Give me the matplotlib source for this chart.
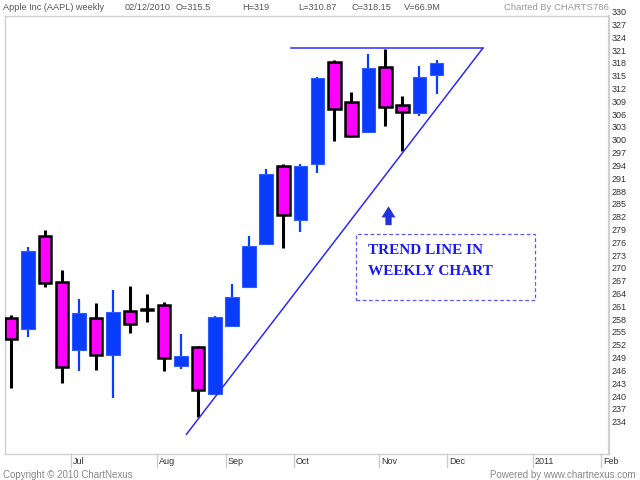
import matplotlib
matplotlib.use("Agg")
import matplotlib.pyplot as plt
from matplotlib.transforms import blended_transform_factory
from matplotlib.patches import FancyArrowPatch, Rectangle
import numpy as np

# ---- data (weekly AAPL candles) ----
opens  = [258.4, 255.9, 277.7, 267.0, 251.0, 258.6, 249.85, 260.2, 260.5, 261.55, 247.35, 251.8, 240.65,
          256.6, 265.7, 275.8, 294.1, 281.5, 294.6, 318.5, 309.0, 302.1, 317.2, 308.4, 306.6, 315.5]
highs  = [259.1, 275.1, 279.0, 269.75, 262.9, 261.95, 265.1, 266.0, 264.1, 262.2, 254.7, 251.9, 259.0,
          266.5, 277.8, 293.4, 294.6, 294.6, 315.0, 318.9, 311.5, 320.25, 321.4, 310.5, 317.5, 319.0]
lows   = [242.2, 254.1, 265.8, 243.2, 246.2, 246.3, 239.7, 254.9, 257.65, 246.2, 246.6, 235.4, 240.4,
          256.4, 265.5, 275.6, 275.0, 278.55, 292.5, 300.0, 300.9, 301.9, 303.5, 297.7, 305.8, 310.87]
closes = [253.5, 274.2, 266.6, 247.0, 259.75, 249.85, 260.0, 257.1, 260.3, 249.2, 249.7, 241.65, 258.8,
          263.5, 275.4, 292.2, 282.5, 294.2, 314.8, 307.45, 301.0, 317.1, 308.0, 306.75, 315.0, 318.15]

month_pos = [3.54, 8.59, 12.62, 16.63, 21.64, 25.63, 30.65, 34.67]
month_labels = ["Jul", "Aug", "Sep", "Oct", "Nov", "Dec", "2011", "Feb"]
price_ticks = list(range(234, 331, 3))

trend_x = [10.31, 27.72]
trend_y = [231.28, 321.66]
resist_x = [16.43, 27.72]
resist_y = [321.66, 321.66]

header = [("Apple Inc (AAPL) weekly", 3), ("02/12/2010", 125), ("O=315.5", 176), ("H=319", 242),
          ("L=310.87", 298), ("C=318.15", 351), ("V=66.9M", 404)]

BLUE = "#0a3cff"
MAG = "#ff00ff"
FONT = "Liberation Sans"

fig = plt.figure(figsize=(6.4, 4.8), dpi=100)
W, H = 640, 480
ax = fig.add_axes([5.3 / W, 26 / H, (609.3 - 5.3) / W, 438 / H])
ax.set_xlim(-0.33, 35.15)
ax.set_ylim(226.67, 329.2)
ax.set_xticks([])
ax.set_yticks([])
for s in ax.spines.values():
    s.set_color("#d0d0d0")
    s.set_linewidth(1.0)
ax.spines["right"].set_linewidth(1.6)

x = np.arange(len(opens))
o = np.array(opens); c = np.array(closes); hi = np.array(highs); lo = np.array(lows)
up = c >= o
dn = ~up

# wicks
ax.vlines(x[up], lo[up], hi[up], color=BLUE, lw=1.6, zorder=2)
ax.vlines(x[dn], lo[dn], hi[dn], color="black", lw=2.2, zorder=2)
# bodies
ax.bar(x[up], (c - o)[up], bottom=o[up], width=0.8, color=BLUE, edgecolor="#2f5cff", lw=0.8, zorder=3)
ax.bar(x[dn], np.maximum((o - c)[dn], 0.25), bottom=c[dn], width=0.74, color=MAG,
       edgecolor="black", lw=1.8, zorder=3)

# trend lines
ax.plot(trend_x, trend_y, color="#2a2aff", lw=1.1, zorder=4)
ax.plot(resist_x, resist_y, color="#2a2aff", lw=1.1, zorder=4)

# annotation box + text + arrow
ax.add_patch(Rectangle((20.25, 262.7), 30.8 - 20.25, 278.2 - 262.7, fill=False,
                       edgecolor="#5a5aff", lw=0.9, linestyle=(0, (3, 2)), zorder=4))
ax.text(20.95, 274.4, "TREND LINE IN", color="#1a1aee", fontsize=11, fontweight="bold",
        family="Liberation Serif", va="center", ha="left", zorder=5)
ax.text(20.95, 269.5, "WEEKLY CHART", color="#1a1aee", fontsize=11, fontweight="bold",
        family="Liberation Serif", va="center", ha="left", zorder=5)
ax.add_patch(FancyArrowPatch((22.18, 279.6), (22.18, 285.3),
                             arrowstyle="simple,head_width=1.0,head_length=0.8,tail_width=0.45",
                             mutation_scale=10, color="#2233dd", lw=0, zorder=5))

# y labels (right)
ty = blended_transform_factory(fig.transFigure, ax.transData)
for v in price_ticks:
    ax.text(611.5 / W, v, str(v), transform=ty, fontsize=6.5, family=FONT, color="#333333",
            ha="left", va="center", clip_on=False)

# x ticks / labels
tx = blended_transform_factory(ax.transData, fig.transFigure)
for p, lab in zip(month_pos, month_labels):
    ax.plot([p, p], [1 - 454 / H, 1 - 467 / H], transform=tx, color="#cccccc", lw=1.0, clip_on=False)
    ax.text(p + 0.12, 1 - 462 / H, lab, transform=tx, fontsize=6.5, family=FONT, color="#333333",
            ha="left", va="center", clip_on=False)

# header
for txt, px in header:
    fig.text(px / W, 1 - 8 / H, txt, fontsize=6.6, family=FONT, color="#555555", ha="left", va="center")
fig.text(608.5 / W, 1 - 7.5 / H, "Charted By CHARTS786", fontsize=6.8, family=FONT, color="#999999",
         ha="right", va="center")

# footer
fig.text(3 / W, 1 - 475 / H, "Copyright \u00a9 2010 ChartNexus", fontsize=7, family=FONT, color="#888888",
         ha="left", va="center")
fig.text(636 / W, 1 - 475 / H, "Powered by www.chartnexus.com", fontsize=7, family=FONT, color="#888888",
         ha="right", va="center")

fig.savefig("out.png", dpi=100)
